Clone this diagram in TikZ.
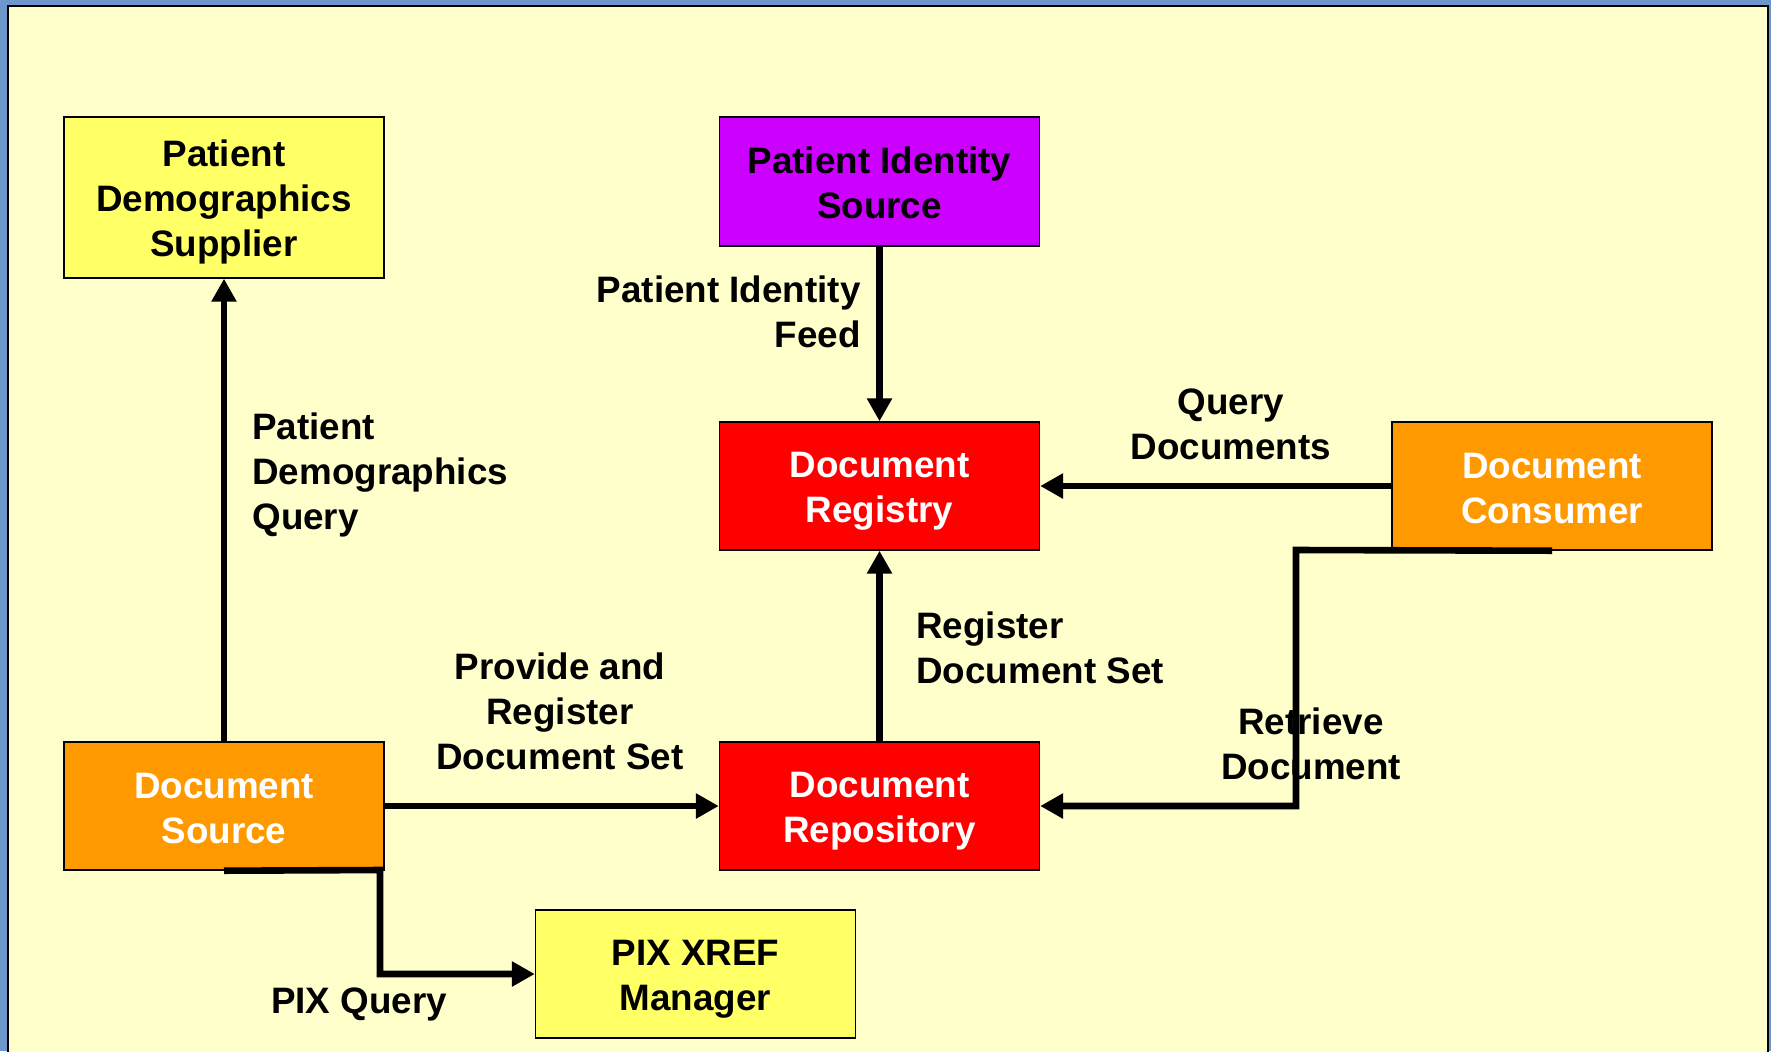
\documentclass[tikz,border=0pt]{standalone}
\usepackage{fontspec}
\setmainfont{Liberation Sans}
\usetikzlibrary{arrows.meta}
\definecolor{frameblue}{HTML}{6D97CB}
\definecolor{cream}{HTML}{FFFFCC}
\definecolor{boxyellow}{HTML}{FFFF66}
\definecolor{boxpurple}{HTML}{CC00FF}
\definecolor{boxred}{HTML}{FF0000}
\definecolor{boxorange}{HTML}{FF9900}
\newcommand\vstr{\rule[-4pt]{0pt}{21.2pt}}
\newcommand\bstr{\rule[-3pt]{0pt}{20.7pt}}
\tikzset{
  actor/.style={draw=black, line width=0.7pt, minimum width=160pt, minimum height=64pt,
    inner sep=0pt, align=center, font=\fontsize{18.4}{22.5}\selectfont\bfseries},
  darktext/.style={text=black},
  lighttext/.style={text=white},
  lbl/.style={inner sep=0pt, font=\fontsize{18.4}{22.5}\selectfont\bfseries, text=black},
  conn/.style={line width=3.3pt, draw=black},
  tip/.style={-{Triangle[length=11.5pt, width=12pt]}}
}
\begin{document}
\begin{tikzpicture}[x=0.5pt, y=-0.5pt]
\useasboundingbox (0,0) rectangle (1771,1051);
% frame
\fill[frameblue] (0,0) rectangle (1771,1051);
\fill[cream, draw=black, line width=1pt] (8,6) rectangle (1768,1070);

% actors
\node[actor, darktext, fill=boxyellow, minimum height=80.5pt] (pds) at (224,197.5) {\bstr Patient\\Demographics\\\bstr Supplier};
\node[actor, darktext, fill=boxpurple, minimum height=64.5pt] (pis) at (879.5,181.5) {\bstr Patient Identity\\\bstr Source};
\node[actor, lighttext, fill=boxred] (reg) at (879.5,486) {\bstr Document\\\bstr Registry};
\node[actor, lighttext, fill=boxorange] (cons) at (1552,486) {\bstr Document\\\bstr Consumer};
\node[actor, lighttext, fill=boxorange] (src) at (224,806) {\bstr Document\\\bstr Source};
\node[actor, lighttext, fill=boxred] (repo) at (879.5,806) {\bstr Document\\\bstr Repository};
\node[actor, darktext, fill=boxyellow] (pix) at (695.5,974) {\bstr PIX XREF\\\bstr Manager};

% labels
\node[lbl, anchor=east, align=right] (lfeed) at (861,311.5) {\vstr Patient Identity\\\vstr Feed};
\node[lbl, anchor=west, align=left] (lpdq) at (252,471.5) {\vstr Patient\\Demographics\\\vstr Query};
\node[lbl, align=center] (lqd) at (1231,423.5) {\vstr Query\\\vstr Documents};
\node[lbl, anchor=west, align=left] (lrds) at (916,647.5) {\vstr Register\\\vstr Document Set};
\node[lbl, align=center] (lprds) at (560,711) {\vstr Provide and\\Register\\\vstr Document Set};
\node[lbl, align=center] (lret) at (1311,743.5) {\vstr Retrieve\\\vstr Document};
\node[lbl, align=center] (lpix) at (359,1000) {\vstr PIX Query};

% connector bends
\coordinate (rb) at (1296,550);
\coordinate (sb) at (380,870);

% connectors
\draw[conn, tip] (pis.south) -- (reg.north);
\draw[conn, tip] (src.north) -- (pds.south);
\draw[conn, tip] (repo.north) -- (reg.south);
\draw[conn, tip] (cons.west) -- (reg.east);
\draw[conn, tip] (src.east) -- (repo.west);
\draw[conn, tip] (cons.south) -- (rb) |- (repo.east);
\draw[conn, tip] (src.south) -- (sb) |- (pix.west);
\end{tikzpicture}
\end{document}
